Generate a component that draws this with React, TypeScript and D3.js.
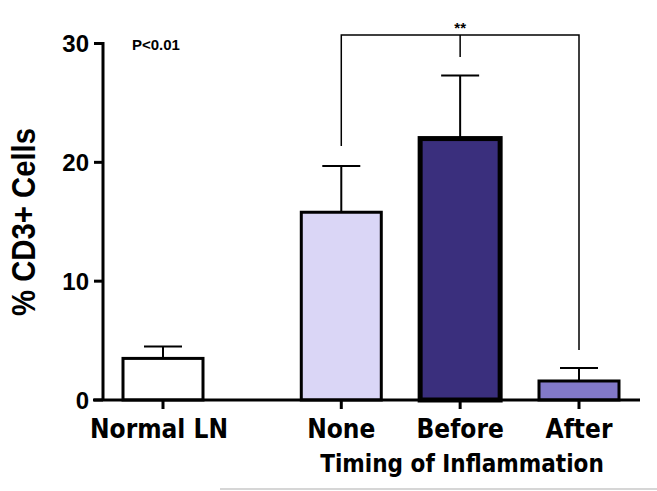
import React from "react";
import { scaleLinear } from "d3";

// categories, positions on the x axis (gap after Normal LN), means, SEM
const categories = ["Normal LN", "None", "Before", "After"];
const slots = [0, 1.5, 2.5, 3.5];
const means = [3.5, 15.8, 22.0, 1.6];
const sems = [1.0, 3.9, 5.3, 1.1];
const fills = ["#ffffff", "#dad6f6", "#3a2f7d", "#8279c9"];
const yTicks = [0, 10, 20, 30];

const W = 657;
const H = 491;
const barW = 80;

export default function App() {
  const x = scaleLinear().domain([0, 3.5]).range([163, 579]);
  const y = scaleLinear().domain([0, 30]).range([400, 43.5]);

  const bold = "'Liberation Sans', Arial, sans-serif";
  const cond = "'DejaVu Sans Condensed', 'DejaVu Sans', sans-serif";

  const bracketY = 35;
  const leftX = x(slots[1]);
  const rightX = x(slots[3]);
  const midX = x(slots[2]);

  return (
    <svg width={W} height={H} style={{ position: "absolute", left: 0, top: 0, background: "#fff" }}>
      {/* bars */}
      {categories.map((c, i) => {
        const cx = x(slots[i]);
        const sw = c === "Before" ? 5 : 3;
        return (
          <g key={c}>
            <line x1={cx} x2={cx} y1={y(means[i])} y2={y(means[i] + sems[i])} stroke="#000" strokeWidth={2} />
            <line x1={cx - 19} x2={cx + 19} y1={y(means[i] + sems[i])} y2={y(means[i] + sems[i])} stroke="#000" strokeWidth={2} />
            <rect
              x={cx - barW / 2}
              y={y(means[i])}
              width={barW}
              height={y(0) - y(means[i])}
              fill={fills[i]}
              stroke="#000"
              strokeWidth={sw}
            />
            <line x1={cx} x2={cx} y1={y(0)} y2={y(0) + 9} stroke="#000" strokeWidth={3} />
            <text x={i === 0 ? cx - 4 : cx} y={438} textAnchor="middle" fontFamily={cond} fontWeight="bold" fontSize={26}>
              {c}
            </text>
          </g>
        );
      })}

      {/* y axis */}
      <line x1={103} x2={103} y1={y(30) - 1.5} y2={y(0)} stroke="#000" strokeWidth={3} />
      {yTicks.map((t) => (
        <g key={t}>
          <line x1={94} x2={103} y1={y(t)} y2={y(t)} stroke="#000" strokeWidth={3} />
          <text x={89} y={y(t)} dy="0.36em" textAnchor="end" fontFamily={bold} fontWeight="bold" fontSize={24}>
            {t}
          </text>
        </g>
      ))}
      {/* x axis */}
      <line x1={93} x2={640} y1={y(0)} y2={y(0)} stroke="#000" strokeWidth={3} />

      <text
        transform={`translate(35,222) rotate(-90)`}
        textAnchor="middle"
        fontFamily={bold}
        fontWeight="bold"
        fontSize={34}
        textLength={188}
        lengthAdjust="spacingAndGlyphs"
      >
        % CD3+ Cells
      </text>

      <text x={132} y={50} fontFamily={bold} fontWeight="bold" fontSize={15}>
        P&lt;0.01
      </text>

      {/* significance bracket */}
      <path
        d={`M${leftX},146 V${bracketY} H${rightX} V350`}
        fill="none"
        stroke="#000"
        strokeWidth={1.5}
      />
      <line x1={midX} x2={midX} y1={bracketY} y2={57} stroke="#000" strokeWidth={1.5} />
      <text x={midX} y={33} textAnchor="middle" fontFamily={bold} fontWeight="bold" fontSize={15}>
        **
      </text>

      <text x={462} y={472} textAnchor="middle" fontFamily={cond} fontWeight="bold" fontSize={24}>
        Timing of Inflammation
      </text>
      <line x1={220} x2={657} y1={489} y2={489} stroke="#c8c8c8" strokeWidth={1.5} />
    </svg>
  );
}
